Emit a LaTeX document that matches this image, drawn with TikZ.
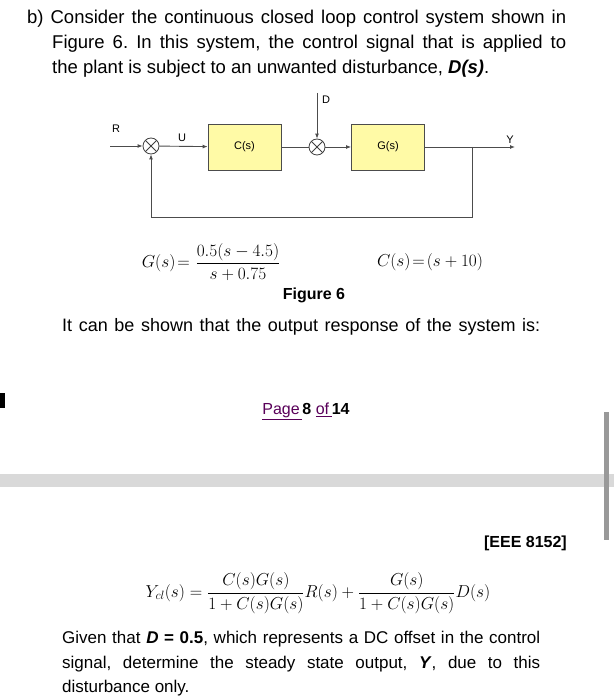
\documentclass[tikz,border=0pt]{standalone}
\usepackage{amsmath}
\usepackage{fontspec}
\setmainfont{Liberation Sans}
\usetikzlibrary{arrows.meta}
\frenchspacing
\newcommand{\jl}[2]{\hbox to #1{#2}}
\begin{document}
\begin{tikzpicture}[x=1pt,y=-1pt,
  txt/.style={anchor=base west,inner sep=0,font=\fontsize{17}{20}\selectfont},
  ttxt/.style={txt,font=\fontsize{18.5}{22}\selectfont},
  blk/.style={draw=black!70,fill=yellow!35,minimum width=73pt,minimum height=46pt,font=\fontsize{11}{13}\selectfont,line width=0.8pt},
  sm/.style={draw=black!75,circle,minimum size=16pt,inner sep=0,line width=0.8pt,path picture={\draw[line width=0.8pt,black!75] (path picture bounding box.north west)--(path picture bounding box.south east) (path picture bounding box.north east)--(path picture bounding box.south west);}},
  lab/.style={font=\fontsize{11}{13}\selectfont,inner sep=0},
  wire/.style={draw=black!70,line width=0.9pt},
  arr/.style={wire,-{Latex[length=5pt,width=4pt]}},
  eq/.style={inner sep=0,font=\fontsize{17}{20}\selectfont}]
\useasboundingbox (0,0) rectangle (614,700);
% top text
\node[ttxt] (t1) at (27,24) {\jl{539pt}{b) Consider the continuous closed loop control system shown in}};
\node[ttxt] (t2) at (52,49) {\jl{514pt}{Figure 6. In this system, the control signal that is applied to}};
\node[ttxt] (t3) at (52,74) {the plant is subject to an unwanted disturbance, \textbf{\textit{D(s)}}.};
% block diagram
\coordinate (rin) at (110,146);
\node[sm] (s1) at (151,146) {};
\node[blk] (C) at (244.5,147) {C(s)};
\node[sm] (s2) at (317,147) {};
\node[blk] (G) at (388,147) {G(s)};
\coordinate (din) at (317,93);
\coordinate (br) at (472,147);
\coordinate (yout) at (515,147);
\coordinate (fb1) at (472,217);
\coordinate (fb2) at (151,217);
\node[lab] (R) at (116,129) {R};
\node[lab] (U) at (182,138) {U};
\node[lab] (D) at (326,100) {D};
\node[lab] (Y) at (510,140) {Y};
\draw[arr] (rin) -- (s1);
\draw[arr] (s1) -- (C);
\draw[wire] (C) -- (s2);
\draw[arr] (s2) -- (G);
\draw[arr] (din) -- (s2);
\draw[arr] (G) -- (yout);
\draw[arr] (br) -- (fb1) -- (fb2) -- (s1);
% equations
\node[eq] (geq) at (238,262) {$\dfrac{0.5(s-4.5)}{s+0.75}$};
\node[eq,anchor=east] (gl) at (190,263) {$G(s)\!=$};
\node[eq] (ceq) at (430,262) {$C(s)\!=\!(s+10)$};
\node[txt,anchor=base,font=\fontsize{16}{20}\selectfont\bfseries] (fig) at (314,299) {Figure 6};
\node[txt,font=\fontsize{18}{20}\selectfont] (t4) at (62,331) {\jl{478pt}{It can be shown that the output response of the system is:}};
% page marker
\fill (0,393) rectangle (5,408);
\node[txt,anchor=base,font=\fontsize{16}{20}\selectfont] (pg) at (306,414) {\color{violet!70!black}\underline{Page\,}\textcolor{black}{\textbf{8}} \underline{of\,}\textcolor{black}{\textbf{14}}};
\fill[black!15] (0,474) rectangle (614,487);
\fill[black!40] (604,412) rectangle (609,540);
\node[txt,anchor=base east,font=\fontsize{16}{20}\selectfont\bfseries] (eee) at (567,547) {[EEE 8152]};
\node[eq] (yeq) at (318,593) {$Y_{cl}(s)=\dfrac{C(s)G(s)}{1+C(s)G(s)}R(s)+\dfrac{G(s)}{1+C(s)G(s)}D(s)$};
\node[txt] (t5) at (62,643) {\jl{478pt}{Given that \textbf{\textit{D}} \textbf{= 0.5}, which represents a DC offset in the control}};
\node[txt] (t6) at (62,668) {\jl{478pt}{signal, determine the steady state output, \textbf{\textit{Y}}, due to this}};
\node[txt] (t7) at (62,692) {disturbance only.};
\end{tikzpicture}
\end{document}
